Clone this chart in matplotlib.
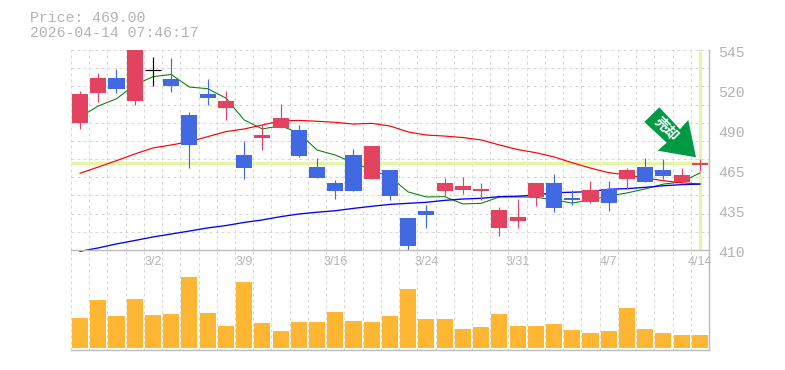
import numpy as np
import matplotlib
matplotlib.use('Agg')
import matplotlib.pyplot as plt
from matplotlib.patches import Polygon

# data to plot
price_now = 469.0
stamp = '2026-04-14 07:46:17'
opens = [495.9, 516.2, 526.1, 510.8, 531.3, 525.4, 501.1, 515.3, 505.8, 474.1, 485.6, 492.6,
         491.0, 466.0, 455.2, 474.1, 458.1, 464.0, 431.6, 436.3, 449.8, 450.5, 449.8, 424.9,
         429.6, 445.8, 455.2, 445.1, 442.4, 451.2, 457.9, 466.0, 464.0, 455.9, 467.4]
closes = [515.3, 526.1, 518.9, 548.0, 531.3, 520.9, 481.1, 512.6, 510.6, 465.5, 487.6, 499.1,
          473.6, 458.8, 450.0, 450.0, 480.2, 446.7, 412.9, 433.8, 455.2, 453.2, 451.2, 437.0,
          432.3, 455.2, 438.4, 443.8, 450.5, 441.7, 464.0, 455.9, 460.0, 460.6, 469.0]
highs = [517.3, 529.5, 532.2, 550.0, 540.1, 539.6, 503.2, 525.4, 517.3, 483.6, 495.1, 508.6,
         494.4, 472.1, 457.3, 478.2, 480.2, 464.0, 431.6, 440.4, 458.6, 459.3, 455.2, 439.0,
         444.4, 455.2, 461.3, 450.5, 456.6, 456.6, 465.3, 472.1, 471.4, 465.3, 471.4]
lows = [491.7, 509.9, 516.2, 508.1, 520.9, 516.9, 465.5, 508.1, 497.8, 458.1, 477.5, 492.6,
        473.0, 458.8, 444.6, 450.0, 458.1, 443.8, 409.5, 425.0, 446.5, 447.8, 443.8, 419.5,
        424.9, 439.7, 435.7, 440.4, 441.7, 436.3, 451.2, 455.9, 457.9, 454.5, 463.3]
ma_short = [499.8, 507.2, 512.1, 521.4, 527.0, 528.5, 520.0, 518.9, 512.6, 497.8, 491.7, 493.9,
            489.0, 477.5, 474.1, 468.9, 464.0, 459.3, 449.2, 445.8, 446.0, 441.1, 441.5, 445.8,
            445.8, 445.6, 443.8, 441.7, 443.8, 446.5, 448.5, 451.2, 454.5, 455.9, 462.0]
ma_mid = [461.8, 466.0, 470.3, 474.8, 478.9, 480.9, 483.1, 486.5, 489.9, 491.7, 494.4, 497.1,
          497.5, 496.9, 496.2, 495.0, 495.5, 493.7, 489.7, 487.6, 486.9, 485.9, 484.3, 480.9,
          477.8, 475.7, 472.8, 468.9, 465.3, 462.2, 460.6, 458.6, 456.8, 455.4, 454.5]
ma_long = [409.1, 411.4, 414.1, 416.4, 418.8, 420.8, 422.8, 424.9, 426.5, 428.6, 430.3, 432.5,
           434.3, 435.5, 436.5, 438.1, 439.5, 440.8, 441.5, 442.2, 443.5, 444.4, 444.9, 446.0,
           446.3, 447.1, 448.7, 449.0, 449.4, 451.0, 451.4, 452.3, 453.4, 454.1, 454.5]
volumes = [30, 48, 32, 49, 33, 34, 71, 35, 22, 66, 25, 17, 26, 26, 36, 27, 26, 32, 59, 29, 29, 19,
           21, 34, 22, 22, 24, 18, 15, 17, 40, 19, 15, 13, 13]
y_ticks = [545, 518, 491, 464, 437, 410]
y_labels = ['545', '520', '490', '465', '435', '410']
date_pos = [4, 9, 14, 19, 24, 29, 34]
date_labels = ['3/2', '3/9', '3/16', '3/24', '3/31', '4/7', '4/14']

RED = '#e34360'
BLUE = '#4169e1'
GRAY = '#b4b4b4'
GRID = '#d6d6d6'
HILITE = '#e4f5a8'
W, H = 785, 370
LEFT, RIGHT = 70.9, 709.0
PX = 0.72  # one pixel in points

plt.rcParams['font.family'] = ['Liberation Mono', 'DejaVu Sans']
fig = plt.figure(figsize=(W / 100, H / 100), dpi=100)
ax = fig.add_axes([LEFT / W, 1 - 250 / H, (RIGHT - LEFT) / W, 200 / H])
vax = fig.add_axes([LEFT / W, 1 - 350 / H, (RIGHT - LEFT) / W, 100 / H])

index = np.arange(len(opens))
bar_width = 0.88
dash = (0, (3, 3))

# price panel
ax.set_xlim(-0.5, len(opens) - 0.5)
ax.set_ylim(410, 545)
ax.set_yticks(np.linspace(410, 545, 12))
ax.set_xticks(np.arange(-0.5, len(opens)))
ax.tick_params(length=0, labelbottom=False, labelleft=False)
ax.grid(True, color=GRID, lw=PX, ls=dash)
ax.set_axisbelow(True)
for s in ax.spines.values():
    s.set_visible(False)
ax.axhline(price_now, color=HILITE, lw=2.4, zorder=1.2)
ax.axvline(index[-1], color=HILITE, lw=2.2, zorder=1.2)

ax.plot(index, ma_short, color='#008000', lw=0.75, zorder=2)
ax.plot(index, ma_mid, color='#ff0000', lw=0.85, zorder=2)
# the first long average point sits just under the panel
ax.plot(index, ma_long, color='#0000ff', lw=0.95, zorder=2, clip_on=False)

for i in index:
    if closes[i] == opens[i]:
        c = 'black'
    elif closes[i] > opens[i]:
        c = RED
    else:
        c = BLUE
    ax.vlines(i, lows[i], highs[i], color=c, lw=0.85, zorder=3)
    if c == 'black':
        ax.hlines(closes[i], i - bar_width / 2, i + bar_width / 2, color=c, lw=0.85, zorder=3)
    else:
        ax.bar(i, abs(closes[i] - opens[i]), bar_width, bottom=min(opens[i], closes[i]), color=c, zorder=3)

for t, lab in zip(y_ticks, y_labels):
    ax.annotate(lab, (1, t), xycoords=('axes fraction', 'data'), xytext=(9, -3),
                textcoords='offset pixels', color=GRAY, fontsize=10.7, va='center', ha='left',
                annotation_clip=False)

# volume panel
vax.set_xlim(-0.5, len(opens) - 0.5)
vax.set_ylim(-2, 98)
vax.set_xticks(np.arange(-0.5, len(opens)))
vax.set_yticks([])
vax.tick_params(length=0, labelbottom=False)
vax.grid(True, axis='x', color=GRID, lw=PX, ls=dash)
vax.set_axisbelow(True)
vax.patch.set_alpha(0)
vax.bar(index, volumes, bar_width, color='#ffb733', zorder=3)
vax.spines['left'].set_visible(False)
for name in ['top', 'bottom', 'right']:
    vax.spines[name].set_color('#bcbcbc')
    vax.spines[name].set_linewidth(1.0)
ax.plot([1, 1], [0, 1], transform=ax.transAxes, color='#bcbcbc', lw=1.0, clip_on=False, zorder=4)

for p, lab in zip(date_pos, date_labels):
    vax.text(p, 0.88, lab, transform=vax.get_xaxis_transform(), ha='center', va='center',
             color=GRAY, fontsize=9, family='Liberation Sans')

# header
fig.text(30 / W, 1 - 18 / H, 'Price: %.2f' % price_now, color=GRAY, fontsize=10.7, va='center')
fig.text(30 / W, 1 - 33 / H, stamp, color=GRAY, fontsize=10.7, va='center')

# signal arrow
arrow_px = [(659.3, 107.3), (644.3, 122), (666.7, 142.7), (657.7, 150.7), (696, 157.3), (688.3, 120), (680, 129.3)]
arrow = Polygon([(x / W, 1 - y / H) for x, y in arrow_px], closed=True, transform=fig.transFigure,
                facecolor='#009944', edgecolor='none', zorder=5)
fig.add_artist(arrow)
fig.text(666 / W, 1 - 129.5 / H, '売却', color='white', fontsize=10, rotation=-45, ha='center', va='center',
         family=['Noto Sans CJK JP', 'DejaVu Sans'], fontweight='bold', zorder=6)

fig.savefig('out.png', dpi=100)
